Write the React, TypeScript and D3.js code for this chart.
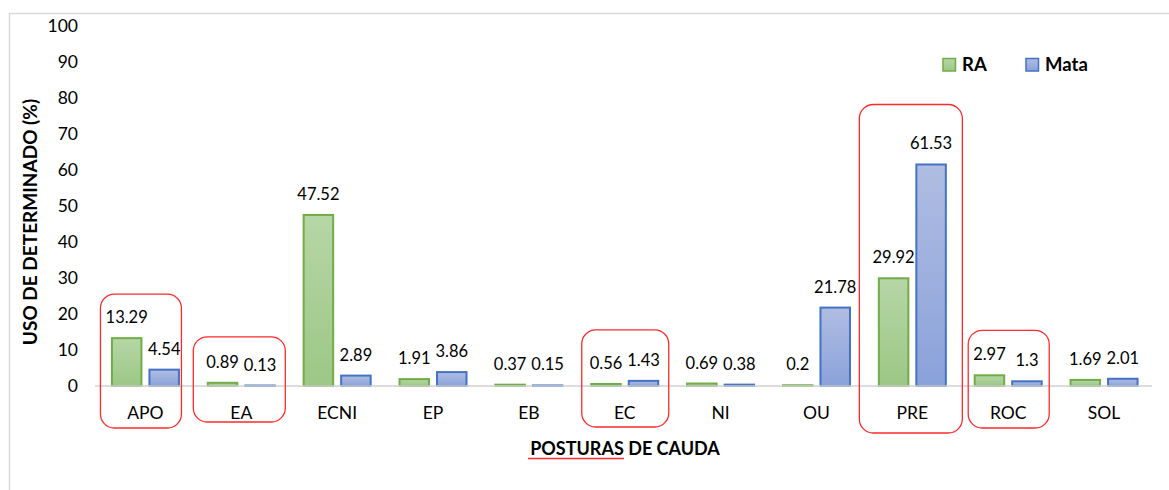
import React from 'react';
import * as d3 from 'd3';

const categories = ['APO', 'EA', 'ECNI', 'EP', 'EB', 'EC', 'NI', 'OU', 'PRE', 'ROC', 'SOL'];
const seriesNames = ['RA', 'Mata'];
const raValues = [13.29, 0.89, 47.52, 1.91, 0.37, 0.56, 0.69, 0.2, 29.92, 2.97, 1.69];
const mataValues = [4.54, 0.13, 2.89, 3.86, 0.15, 1.43, 0.38, 21.78, 61.53, 1.3, 2.01];
const yTicks = [0, 10, 20, 30, 40, 50, 60, 70, 80, 90, 100];
const highlighted = ['APO', 'EA', 'EC', 'PRE', 'ROC'];

const width = 1169;
const height = 490;
const font = 'Lato, "Open Sans", sans-serif';

const colors: Record<string, { stroke: string; top: string; bottom: string }> = {
  RA: { stroke: '#70ad47', top: '#b6d6a6', bottom: '#9cc786' },
  Mata: { stroke: '#4472c4', top: '#b0bde2', bottom: '#8aa2da' },
};

// hand-drawn red boxes: offsets from the band centre / bar top / baseline
const boxShape: Record<string, { l: number; r: number; t: number; b: number }> = {
  APO: { l: -45, r: 36, t: 44, b: 42 },
  EA: { l: -48, r: 44, t: 46, b: 36 },
  EC: { l: -43, r: 44, t: 51, b: 41 },
  PRE: { l: -53, r: 50, t: 60, b: 47 },
  ROC: { l: -40, r: 41, t: 45, b: 42 },
};

const App: React.FC = () => {
  const x0 = d3.scaleBand<string>().domain(categories).range([97.5, 1152]).padding(0);
  const bw = x0.bandwidth();
  const x1 = d3
    .scaleBand<string>()
    .domain(seriesNames)
    .range([bw / 2 - 34.5, bw / 2 + 34.5])
    .paddingInner(0.16);
  const y = d3.scaleLinear().domain([0, 100]).range([386, 26]);

  const rows = categories.map((c, i) => ({ cat: c, vals: [raValues[i], mataValues[i]] }));

  return (
    <svg width={width} height={height} style={{ position: 'absolute', left: 0, top: 0, background: '#fff' }}>
      <defs>
        {seriesNames.map((s) => (
          <linearGradient key={s} id={`grad-${s}`} x1="0" y1="0" x2="0" y2="1">
            <stop offset="0%" stopColor={colors[s].top} />
            <stop offset="100%" stopColor={colors[s].bottom} />
          </linearGradient>
        ))}
      </defs>

      {/* chart area border */}
      <rect x={9.5} y={13.5} width={1200} height={500} fill="none" stroke="#d9d9d9" strokeWidth={1.5} />

      {/* y tick labels */}
      {yTicks.map((t) => (
        <text key={t} x={78} y={y(t)} dy="0.35em" textAnchor="end" fontFamily={font} fontSize={17.5} fill="#000">
          {t}
        </text>
      ))}

      {/* bars */}
      {rows.map((r) => (
        <g key={r.cat} transform={`translate(${x0(r.cat)},0)`}>
          {seriesNames.map((s, j) => {
            const v = r.vals[j];
            const bx = x1(s) || 0;
            const top = y(v);
            return (
              <g key={s}>
                <rect
                  x={bx + 1}
                  y={top}
                  width={x1.bandwidth() - 2}
                  height={Math.max(0, y(0) - top)}
                  fill={`url(#grad-${s})`}
                  stroke={colors[s].stroke}
                  strokeWidth={2}
                />
                <text
                  x={bx + x1.bandwidth() / 2}
                  y={top - 15}
                  textAnchor="middle"
                  fontFamily={font}
                  fontSize={16.5}
                  fill="#000"
                >
                  {v}
                </text>
              </g>
            );
          })}
          <text x={bw / 2} y={413} dy="0.35em" textAnchor="middle" fontFamily={font} fontSize={17.5} fill="#000">
            {r.cat}
          </text>
        </g>
      ))}

      {/* baseline */}
      <line x1={95} x2={1152} y1={y(0)} y2={y(0)} stroke="#d0d0d0" strokeWidth={1.5} />

      {/* red annotation boxes */}
      {highlighted.map((c) => {
        const i = categories.indexOf(c);
        const s = boxShape[c];
        const cx = (x0(c) || 0) + bw / 2;
        const top = y(Math.max(raValues[i], mataValues[i])) - s.t;
        const bottom = y(0) + s.b;
        return (
          <rect
            key={c}
            x={cx + s.l}
            y={top}
            width={s.r - s.l}
            height={bottom - top}
            rx={14}
            ry={14}
            fill="none"
            stroke="#ff2a2a"
            strokeWidth={1.3}
          />
        );
      })}

      {/* axis titles */}
      <text
        transform={`translate(37,${222}) rotate(-90)`}
        textAnchor="middle"
        fontFamily={font}
        fontSize={19}
        fontWeight="bold"
        fill="#000"
      >
        USO DE DETERMINADO (%)
      </text>
      <text x={625} y={455} textAnchor="middle" fontFamily={font} fontSize={18} fontWeight="bold" fill="#000">
        POSTURAS DE CAUDA
      </text>
      <line x1={528} x2={624} y1={458.5} y2={458.5} stroke="#ff2a2a" strokeWidth={1.3} />

      {/* legend */}
      {seriesNames.map((s, i) => {
        const lx = i === 0 ? 943 : 1026;
        return (
          <g key={s}>
            <rect x={lx} y={58.5} width={12.5} height={12.5} fill={`url(#grad-${s})`} stroke={colors[s].stroke} strokeWidth={1.5} />
            <text x={lx + 19} y={65} dy="0.35em" fontFamily={font} fontSize={18.5} fontWeight="bold" fill="#000">
              {s}
            </text>
          </g>
        );
      })}
    </svg>
  );
};

export default App;
